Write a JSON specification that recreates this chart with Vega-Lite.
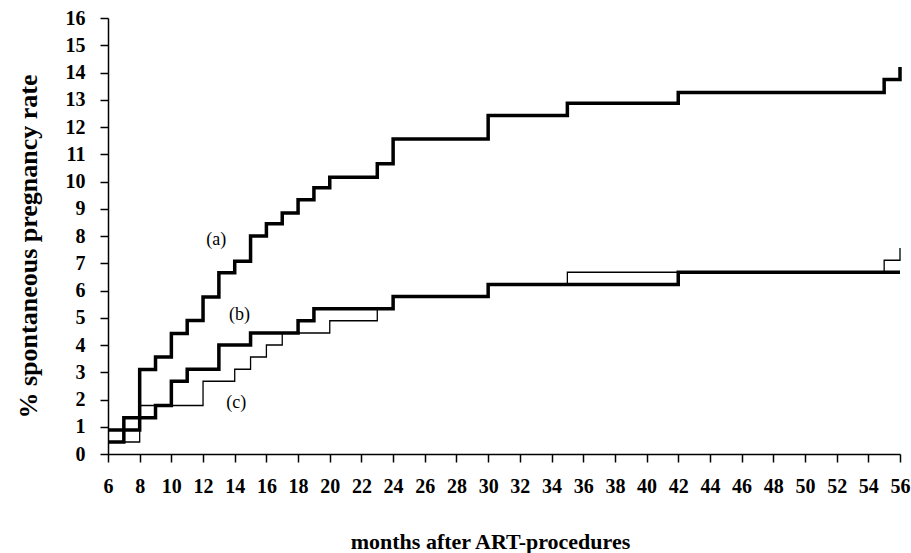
{
  "$schema": "https://vega.github.io/schema/vega-lite/v6.json",
  "autosize": "none",
  "width": 792,
  "height": 436,
  "padding": {"left": 108, "top": 18, "right": 11, "bottom": 99},
  "background": "white",
  "config": {
    "view": {"stroke": null},
    "font": "Liberation Serif"
  },
  "datasets": {
    "curves": [
      {"s": "a", "month": 6, "rate": 0.88},
      {"s": "a", "month": 8, "rate": 3.1},
      {"s": "a", "month": 9, "rate": 3.56},
      {"s": "a", "month": 10, "rate": 4.42},
      {"s": "a", "month": 11, "rate": 4.9},
      {"s": "a", "month": 12, "rate": 5.76},
      {"s": "a", "month": 13, "rate": 6.65},
      {"s": "a", "month": 14, "rate": 7.07},
      {"s": "a", "month": 15, "rate": 8.0},
      {"s": "a", "month": 16, "rate": 8.45},
      {"s": "a", "month": 17, "rate": 8.84},
      {"s": "a", "month": 18, "rate": 9.33},
      {"s": "a", "month": 19, "rate": 9.77},
      {"s": "a", "month": 20, "rate": 10.16},
      {"s": "a", "month": 23, "rate": 10.65},
      {"s": "a", "month": 24, "rate": 11.56},
      {"s": "a", "month": 30, "rate": 12.42},
      {"s": "a", "month": 35, "rate": 12.87},
      {"s": "a", "month": 42, "rate": 13.27},
      {"s": "a", "month": 55, "rate": 13.74},
      {"s": "a", "month": 56, "rate": 14.2},
      {"s": "b", "month": 6, "rate": 0.44},
      {"s": "b", "month": 7, "rate": 1.33},
      {"s": "b", "month": 9, "rate": 1.78},
      {"s": "b", "month": 10, "rate": 2.67},
      {"s": "b", "month": 11, "rate": 3.11},
      {"s": "b", "month": 13, "rate": 4.0},
      {"s": "b", "month": 15, "rate": 4.44},
      {"s": "b", "month": 18, "rate": 4.89},
      {"s": "b", "month": 19, "rate": 5.33},
      {"s": "b", "month": 24, "rate": 5.78},
      {"s": "b", "month": 30, "rate": 6.22},
      {"s": "b", "month": 42, "rate": 6.67},
      {"s": "b", "month": 56, "rate": 6.67},
      {"s": "c", "month": 6, "rate": 0.44},
      {"s": "c", "month": 8, "rate": 1.78},
      {"s": "c", "month": 12, "rate": 2.67},
      {"s": "c", "month": 14, "rate": 3.11},
      {"s": "c", "month": 15, "rate": 3.56},
      {"s": "c", "month": 16, "rate": 4.0},
      {"s": "c", "month": 17, "rate": 4.44},
      {"s": "c", "month": 20, "rate": 4.89},
      {"s": "c", "month": 23, "rate": 5.33},
      {"s": "c", "month": 24, "rate": 5.78},
      {"s": "c", "month": 30, "rate": 6.22},
      {"s": "c", "month": 35, "rate": 6.67},
      {"s": "c", "month": 55, "rate": 7.11},
      {"s": "c", "month": 56, "rate": 7.56}
    ],
    "labels": [
      {"month": 12.84, "rate": 7.86, "txt": "(a)"},
      {"month": 14.3, "rate": 5.1, "txt": "(b)"},
      {"month": 14.1, "rate": 1.86, "txt": "(c)"}
    ]
  },
  "encoding": {
    "x": {
      "field": "month", "type": "quantitative",
      "scale": {"domain": [6, 56], "nice": false, "zero": false},
      "axis": {
        "values": [6, 8, 10, 12, 14, 16, 18, 20, 22, 24, 26, 28, 30, 32, 34, 36, 38, 40, 42, 44, 46, 48, 50, 52, 54, 56],
        "grid": false,
        "domainColor": "black",
        "domainWidth": 1.5,
        "tickColor": "black",
        "tickWidth": 1.5,
        "tickSize": 8,
        "labelColor": "black",
        "labelFont": "Liberation Serif",
        "labelFontWeight": "bold",
        "labelFontSize": 20,
        "labelOverlap": false,
        "labelPadding": 14,
        "labelFlush": false,
        "title": "months after ART-procedures",
        "titleColor": "black",
        "titleFont": "Liberation Serif",
        "titleFontWeight": "bold",
        "titleFontSize": 22,
        "titleX": 382,
        "titleY": 87,
        "titleBaseline": "middle",
        "titleAlign": "center"
      }
    },
    "y": {
      "field": "rate", "type": "quantitative",
      "scale": {"domain": [0, 16], "nice": false},
      "axis": {
        "values": [0, 1, 2, 3, 4, 5, 6, 7, 8, 9, 10, 11, 12, 13, 14, 15, 16],
        "grid": false,
        "domainColor": "black",
        "domainWidth": 1.5,
        "tickColor": "black",
        "tickWidth": 1.5,
        "tickSize": 8,
        "labelColor": "black",
        "labelFont": "Liberation Serif",
        "labelFontWeight": "bold",
        "labelFontSize": 20,
        "labelOverlap": false,
        "labelPadding": 15,
        "labelFlush": false,
        "title": "% spontaneous pregnancy rate",
        "titleColor": "black",
        "titleFont": "Liberation Serif",
        "titleFontWeight": "bold",
        "titleFontSize": 26,
        "titleX": -80,
        "titleY": 228,
        "titleAngle": -90,
        "titleBaseline": "middle",
        "titleAlign": "center"
      }
    }
  },
  "layer": [
    {
      "data": {"name": "curves"},
      "transform": [{"filter": "datum.s === 'c'"}],
      "mark": {"type": "line", "interpolate": "step-after", "color": "black", "strokeWidth": 1.3, "strokeJoin": "miter"},
      "encoding": {"detail": {"field": "s"}}
    },
    {
      "data": {"name": "curves"},
      "transform": [{"filter": "datum.s !== 'c'"}],
      "mark": {"type": "line", "interpolate": "step-after", "color": "black", "strokeWidth": 3.5, "strokeJoin": "miter"},
      "encoding": {"detail": {"field": "s"}}
    },
    {
      "data": {"name": "labels"},
      "mark": {"type": "text", "font": "Liberation Serif", "fontSize": 18, "color": "black", "align": "center", "baseline": "middle"},
      "encoding": {"text": {"field": "txt"}}
    }
  ]
}
